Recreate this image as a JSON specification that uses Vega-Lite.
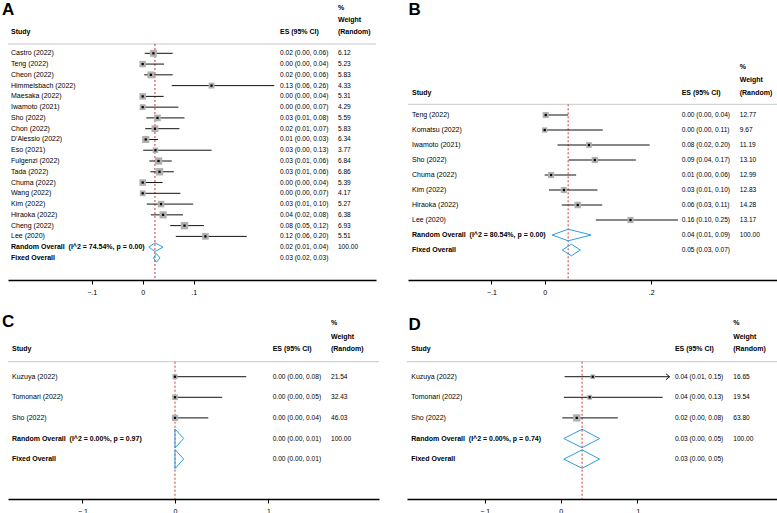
{
  "$schema": "https://vega.github.io/schema/vega-lite/v6.json",
  "padding": {"left": 1, "top": 0, "right": 0, "bottom": 0},
  "spacing": 10,
  "resolve": {"scale": {"size": "independent"}},
  "vconcat": [
    {
      "spacing": 30,
      "resolve": {"scale": {"size": "independent"}},
      "hconcat": [
        {
          "width": 368, "height": 280,
          "data": {"values": [
            {"row": 1, "type": "study", "study": "Castro (2022)", "es": 0.021, "lo": 0.004, "hi": 0.059, "ci": "0.02 (0.00, 0.06)", "wt": 6.12},
            {"row": 2, "type": "study", "study": "Teng (2022)", "es": 0.0, "lo": 0.0, "hi": 0.042, "ci": "0.00 (0.00, 0.04)", "wt": 5.23},
            {"row": 3, "type": "study", "study": "Cheon (2022)", "es": 0.016, "lo": 0.003, "hi": 0.059, "ci": "0.02 (0.00, 0.06)", "wt": 5.83},
            {"row": 4, "type": "study", "study": "Himmelsbach (2022)", "es": 0.135, "lo": 0.057, "hi": 0.258, "ci": "0.13 (0.06, 0.26)", "wt": 4.33},
            {"row": 5, "type": "study", "study": "Maesaka (2022)", "es": 0.0, "lo": 0.0, "hi": 0.041, "ci": "0.00 (0.00, 0.04)", "wt": 5.31},
            {"row": 6, "type": "study", "study": "Iwamoto (2021)", "es": 0.0, "lo": 0.0, "hi": 0.07, "ci": "0.00 (0.00, 0.07)", "wt": 4.29},
            {"row": 7, "type": "study", "study": "Sho (2022)", "es": 0.029, "lo": 0.007, "hi": 0.082, "ci": "0.03 (0.01, 0.08)", "wt": 5.59},
            {"row": 8, "type": "study", "study": "Chon (2022)", "es": 0.024, "lo": 0.005, "hi": 0.072, "ci": "0.02 (0.01, 0.07)", "wt": 5.83},
            {"row": 9, "type": "study", "study": "D'Alessio (2022)", "es": 0.006, "lo": 0.0, "hi": 0.03, "ci": "0.01 (0.00, 0.03)", "wt": 6.34},
            {"row": 10, "type": "study", "study": "Eso (2021)", "es": 0.025, "lo": 0.001, "hi": 0.135, "ci": "0.03 (0.00, 0.13)", "wt": 3.77},
            {"row": 11, "type": "study", "study": "Fulgenzi (2022)", "es": 0.031, "lo": 0.013, "hi": 0.057, "ci": "0.03 (0.01, 0.06)", "wt": 6.84},
            {"row": 12, "type": "study", "study": "Tada (2022)", "es": 0.033, "lo": 0.015, "hi": 0.061, "ci": "0.03 (0.01, 0.06)", "wt": 6.86},
            {"row": 13, "type": "study", "study": "Chuma (2022)", "es": 0.0, "lo": 0.0, "hi": 0.039, "ci": "0.00 (0.00, 0.04)", "wt": 5.39},
            {"row": 14, "type": "study", "study": "Wang (2022)", "es": 0.0, "lo": 0.0, "hi": 0.074, "ci": "0.00 (0.00, 0.07)", "wt": 4.17},
            {"row": 15, "type": "study", "study": "Kim (2022)", "es": 0.036, "lo": 0.008, "hi": 0.099, "ci": "0.03 (0.01, 0.10)", "wt": 5.27},
            {"row": 16, "type": "study", "study": "Hiraoka (2022)", "es": 0.04, "lo": 0.016, "hi": 0.079, "ci": "0.04 (0.02, 0.08)", "wt": 6.38},
            {"row": 17, "type": "study", "study": "Cheng (2022)", "es": 0.082, "lo": 0.054, "hi": 0.12, "ci": "0.08 (0.05, 0.12)", "wt": 6.93},
            {"row": 18, "type": "study", "study": "Lee (2020)", "es": 0.123, "lo": 0.065, "hi": 0.204, "ci": "0.12 (0.06, 0.20)", "wt": 5.51},
            {"row": 19, "type": "random", "study": "Random Overall\u00a0 (I^2 = 74.54%, p = 0.00)", "es": 0.024, "lo": 0.012, "hi": 0.04, "ci": "0.02 (0.01, 0.04)", "wt": 100},
            {"row": 20, "type": "fixed", "study": "Fixed Overall", "es": 0.027, "lo": 0.021, "hi": 0.034, "ci": "0.03 (0.02, 0.03)", "wt": null}
          ]},
          "layer": [
            {"data": {"values": [{"k": 1}]}, "mark": {"type": "rule", "color": "#c8c8c8", "strokeWidth": 1},
             "encoding": {"x": {"datum": -0.2641, "type": "quantitative", "scale": {"domain": [-0.2641, 0.4575], "nice": false, "zero": false}, "axis": {"values": [-0.1, 0, 0.1], "labelExpr": "datum.value == 0 ? '0' : replace(format(datum.value, '.1f'), '0.', '.')", "title": null}},
                          "x2": {"datum": 0.4575}, "y": {"datum": 0.136, "type": "quantitative", "axis": null, "scale": {"domain": [-3.949, 22.049], "reverse": true, "nice": false, "zero": false}}}},
            {"transform": [{"filter": "datum.type == 'random'"}], "mark": {"type": "rule", "color": "#c43c3c", "strokeWidth": 1, "strokeDash": [2, 2]},
             "encoding": {"x": {"field": "es", "type": "quantitative", "title": null, "scale": {"domain": [-0.2641, 0.4575], "nice": false, "zero": false}}, "y": {"datum": 0.136, "type": "quantitative", "axis": null}, "y2": {"datum": 22.049}}},
            {"transform": [{"filter": "datum.type != 'study'"}], "mark": {"type": "rule", "color": "#2a9fe0", "strokeWidth": 1, "y2Offset": -4.3},
             "encoding": {"x": {"field": "lo", "type": "quantitative", "title": null}, "x2": {"field": "es"}, "y": {"field": "row", "type": "quantitative", "axis": null}, "y2": {"field": "row"}}},
            {"transform": [{"filter": "datum.type != 'study'"}], "mark": {"type": "rule", "color": "#2a9fe0", "strokeWidth": 1, "y2Offset": 4.3},
             "encoding": {"x": {"field": "lo", "type": "quantitative", "title": null}, "x2": {"field": "es"}, "y": {"field": "row", "type": "quantitative", "axis": null}, "y2": {"field": "row"}}},
            {"transform": [{"filter": "datum.type != 'study'"}], "mark": {"type": "rule", "color": "#2a9fe0", "strokeWidth": 1, "yOffset": -4.3},
             "encoding": {"x": {"field": "es", "type": "quantitative", "title": null}, "x2": {"field": "hi"}, "y": {"field": "row", "type": "quantitative", "axis": null}, "y2": {"field": "row"}}},
            {"transform": [{"filter": "datum.type != 'study'"}], "mark": {"type": "rule", "color": "#2a9fe0", "strokeWidth": 1, "yOffset": 4.3},
             "encoding": {"x": {"field": "es", "type": "quantitative", "title": null}, "x2": {"field": "hi"}, "y": {"field": "row", "type": "quantitative", "axis": null}, "y2": {"field": "row"}}},
            {"transform": [{"filter": "datum.type == 'study'"}], "mark": {"type": "rule", "color": "#111", "strokeWidth": 1},
             "encoding": {"x": {"field": "lo", "type": "quantitative", "title": null}, "x2": {"field": "hi"}, "y": {"field": "row", "type": "quantitative", "axis": null, "scale": {"domain": [-3.949, 22.049], "reverse": true, "nice": false, "zero": false}}}},
            {"transform": [{"filter": "datum.type == 'study'"}], "mark": {"type": "square", "filled": true, "color": "#b0b0b0", "opacity": 1},
             "encoding": {"x": {"field": "es", "type": "quantitative", "title": null}, "y": {"field": "row", "type": "quantitative", "axis": null}, "size": {"field": "wt", "type": "quantitative", "legend": null, "scale": {"domain": [0, 7], "range": [0, 56]}}}},
            {"transform": [{"filter": "datum.type == 'study'"}], "mark": {"type": "square", "filled": true, "color": "#000", "opacity": 1, "size": 5},
             "encoding": {"x": {"field": "es", "type": "quantitative", "title": null}, "y": {"field": "row", "type": "quantitative", "axis": null}}},
            {"transform": [{"filter": "datum.type == 'study'"}], "mark": {"type": "text"},
             "encoding": {"x": {"datum": -0.2582, "type": "quantitative"}, "y": {"field": "row", "type": "quantitative", "axis": null}, "text": {"field": "study"}}},
            {"transform": [{"filter": "datum.type != 'study'"}], "mark": {"type": "text", "fontWeight": "bold"},
             "encoding": {"x": {"datum": -0.2582, "type": "quantitative"}, "y": {"field": "row", "type": "quantitative", "axis": null}, "text": {"field": "study"}}},
            {"mark": {"type": "text", "fontSize": 6.6},
             "encoding": {"x": {"datum": 0.2692, "type": "quantitative"}, "y": {"field": "row", "type": "quantitative", "axis": null}, "text": {"field": "ci"}}},
            {"transform": [{"filter": "isValid(datum.wt)"}], "mark": {"type": "text", "fontSize": 6.6},
             "encoding": {"x": {"datum": 0.3829, "type": "quantitative"}, "y": {"field": "row", "type": "quantitative", "axis": null}, "text": {"field": "wt", "type": "quantitative", "format": ".2f"}}},
            {"data": {"values": [{"k": 1}]}, "mark": {"type": "text", "text": "A", "fontSize": 17, "fontWeight": "bold", "baseline": "alphabetic"}, "encoding": {"x": {"datum": -0.2759, "type": "quantitative"}, "y": {"datum": -2.55, "type": "quantitative", "axis": null}}},
            {"data": {"values": [{"k": 1}]}, "mark": {"type": "text", "text": "Study", "fontWeight": "bold"}, "encoding": {"x": {"datum": -0.2582, "type": "quantitative"}, "y": {"datum": -0.978, "type": "quantitative", "axis": null}}},
            {"data": {"values": [{"k": 1}]}, "mark": {"type": "text", "text": "ES (95% CI)", "fontWeight": "bold"}, "encoding": {"x": {"datum": 0.2692, "type": "quantitative"}, "y": {"datum": -0.978, "type": "quantitative", "axis": null}}},
            {"data": {"values": [{"k": 1}]}, "mark": {"type": "text", "text": "(Random)", "fontWeight": "bold"}, "encoding": {"x": {"datum": 0.3829, "type": "quantitative"}, "y": {"datum": -0.978, "type": "quantitative", "axis": null}}},
            {"data": {"values": [{"k": 1}]}, "mark": {"type": "text", "text": "Weight", "fontWeight": "bold"}, "encoding": {"x": {"datum": 0.3829, "type": "quantitative"}, "y": {"datum": -2.092, "type": "quantitative", "axis": null}}},
            {"data": {"values": [{"k": 1}]}, "mark": {"type": "text", "text": "%", "fontWeight": "bold"}, "encoding": {"x": {"datum": 0.3829, "type": "quantitative"}, "y": {"datum": -3.25, "type": "quantitative", "axis": null}}}
          ]
        },
        {
          "width": 372, "height": 280,
          "data": {"values": [
            {"row": 1, "type": "study", "study": "Teng (2022)", "es": 0.002, "lo": 0.0, "hi": 0.044, "ci": "0.00 (0.00, 0.04)", "wt": 12.77},
            {"row": 2, "type": "study", "study": "Komatsu (2022)", "es": 0.0, "lo": 0.0, "hi": 0.109, "ci": "0.00 (0.00, 0.11)", "wt": 9.67},
            {"row": 3, "type": "study", "study": "Iwamoto (2021)", "es": 0.083, "lo": 0.024, "hi": 0.197, "ci": "0.08 (0.02, 0.20)", "wt": 11.19},
            {"row": 4, "type": "study", "study": "Sho (2022)", "es": 0.094, "lo": 0.045, "hi": 0.171, "ci": "0.09 (0.04, 0.17)", "wt": 13.10},
            {"row": 5, "type": "study", "study": "Chuma (2022)", "es": 0.012, "lo": 0.0, "hi": 0.059, "ci": "0.01 (0.00, 0.06)", "wt": 12.99},
            {"row": 6, "type": "study", "study": "Kim (2022)", "es": 0.036, "lo": 0.008, "hi": 0.099, "ci": "0.03 (0.01, 0.10)", "wt": 12.83},
            {"row": 7, "type": "study", "study": "Hiraoka (2022)", "es": 0.062, "lo": 0.032, "hi": 0.108, "ci": "0.06 (0.03, 0.11)", "wt": 14.28},
            {"row": 8, "type": "study", "study": "Lee (2020)", "es": 0.161, "lo": 0.096, "hi": 0.25, "ci": "0.16 (0.10, 0.25)", "wt": 13.17},
            {"row": 9, "type": "random", "study": "Random Overall\u00a0 (I^2 = 80.54%, p = 0.00)", "es": 0.044, "lo": 0.014, "hi": 0.087, "ci": "0.04 (0.01, 0.09)", "wt": 100},
            {"row": 10, "type": "fixed", "study": "Fixed Overall", "es": 0.05, "lo": 0.033, "hi": 0.067, "ci": "0.05 (0.03, 0.07)", "wt": null}
          ]},
          "layer": [
            {"data": {"values": [{"k": 1}]}, "mark": {"type": "rule", "color": "#c8c8c8", "strokeWidth": 1},
             "encoding": {"x": {"datum": -0.2565, "type": "quantitative", "scale": {"domain": [-0.2565, 0.4415], "nice": false, "zero": false}, "axis": {"values": [-0.1, 0, 0.2], "labelExpr": "datum.value == 0 ? '0' : replace(format(datum.value, '.1f'), '0.', '.')", "title": null}},
                          "x2": {"datum": 0.4415}, "y": {"datum": 0.287, "type": "quantitative", "axis": null, "scale": {"domain": [-6.667, 12.0], "reverse": true, "nice": false, "zero": false}}}},
            {"transform": [{"filter": "datum.type == 'random'"}], "mark": {"type": "rule", "color": "#c43c3c", "strokeWidth": 1, "strokeDash": [2, 2]},
             "encoding": {"x": {"field": "es", "type": "quantitative", "title": null, "scale": {"domain": [-0.2565, 0.4415], "nice": false, "zero": false}}, "y": {"datum": 0.287, "type": "quantitative", "axis": null}, "y2": {"datum": 12.0}}},
            {"transform": [{"filter": "datum.type != 'study'"}], "mark": {"type": "rule", "color": "#2a9fe0", "strokeWidth": 1, "y2Offset": -5.8},
             "encoding": {"x": {"field": "lo", "type": "quantitative", "title": null}, "x2": {"field": "es"}, "y": {"field": "row", "type": "quantitative", "axis": null}, "y2": {"field": "row"}}},
            {"transform": [{"filter": "datum.type != 'study'"}], "mark": {"type": "rule", "color": "#2a9fe0", "strokeWidth": 1, "y2Offset": 5.8},
             "encoding": {"x": {"field": "lo", "type": "quantitative", "title": null}, "x2": {"field": "es"}, "y": {"field": "row", "type": "quantitative", "axis": null}, "y2": {"field": "row"}}},
            {"transform": [{"filter": "datum.type != 'study'"}], "mark": {"type": "rule", "color": "#2a9fe0", "strokeWidth": 1, "yOffset": -5.8},
             "encoding": {"x": {"field": "es", "type": "quantitative", "title": null}, "x2": {"field": "hi"}, "y": {"field": "row", "type": "quantitative", "axis": null}, "y2": {"field": "row"}}},
            {"transform": [{"filter": "datum.type != 'study'"}], "mark": {"type": "rule", "color": "#2a9fe0", "strokeWidth": 1, "yOffset": 5.8},
             "encoding": {"x": {"field": "es", "type": "quantitative", "title": null}, "x2": {"field": "hi"}, "y": {"field": "row", "type": "quantitative", "axis": null}, "y2": {"field": "row"}}},
            {"transform": [{"filter": "datum.type == 'study'"}], "mark": {"type": "rule", "color": "#111", "strokeWidth": 1},
             "encoding": {"x": {"field": "lo", "type": "quantitative", "title": null}, "x2": {"field": "hi"}, "y": {"field": "row", "type": "quantitative", "axis": null, "scale": {"domain": [-6.667, 12.0], "reverse": true, "nice": false, "zero": false}}}},
            {"transform": [{"filter": "datum.type == 'study'"}], "mark": {"type": "square", "filled": true, "color": "#b0b0b0", "opacity": 1},
             "encoding": {"x": {"field": "es", "type": "quantitative", "title": null}, "y": {"field": "row", "type": "quantitative", "axis": null}, "size": {"field": "wt", "type": "quantitative", "legend": null, "scale": {"domain": [0, 14.28], "range": [0, 42]}}}},
            {"transform": [{"filter": "datum.type == 'study'"}], "mark": {"type": "square", "filled": true, "color": "#000", "opacity": 1, "size": 5},
             "encoding": {"x": {"field": "es", "type": "quantitative", "title": null}, "y": {"field": "row", "type": "quantitative", "axis": null}}},
            {"transform": [{"filter": "datum.type == 'study'"}], "mark": {"type": "text"},
             "encoding": {"x": {"datum": -0.249, "type": "quantitative"}, "y": {"field": "row", "type": "quantitative", "axis": null}, "text": {"field": "study"}}},
            {"transform": [{"filter": "datum.type != 'study'"}], "mark": {"type": "text", "fontWeight": "bold"},
             "encoding": {"x": {"datum": -0.249, "type": "quantitative"}, "y": {"field": "row", "type": "quantitative", "axis": null}, "text": {"field": "study"}}},
            {"mark": {"type": "text", "fontSize": 6.6},
             "encoding": {"x": {"datum": 0.257, "type": "quantitative"}, "y": {"field": "row", "type": "quantitative", "axis": null}, "text": {"field": "ci"}}},
            {"transform": [{"filter": "isValid(datum.wt)"}], "mark": {"type": "text", "fontSize": 6.6},
             "encoding": {"x": {"datum": 0.3659, "type": "quantitative"}, "y": {"field": "row", "type": "quantitative", "axis": null}, "text": {"field": "wt", "type": "quantitative", "format": ".2f"}}},
            {"data": {"values": [{"k": 1}]}, "mark": {"type": "text", "text": "B", "fontSize": 17, "fontWeight": "bold", "baseline": "alphabetic"}, "encoding": {"x": {"datum": -0.2555, "type": "quantitative"}, "y": {"datum": -5.667, "type": "quantitative", "axis": null}}},
            {"data": {"values": [{"k": 1}]}, "mark": {"type": "text", "text": "Study", "fontWeight": "bold"}, "encoding": {"x": {"datum": -0.249, "type": "quantitative"}, "y": {"datum": -0.447, "type": "quantitative", "axis": null}}},
            {"data": {"values": [{"k": 1}]}, "mark": {"type": "text", "text": "ES (95% CI)", "fontWeight": "bold"}, "encoding": {"x": {"datum": 0.257, "type": "quantitative"}, "y": {"datum": -0.447, "type": "quantitative", "axis": null}}},
            {"data": {"values": [{"k": 1}]}, "mark": {"type": "text", "text": "(Random)", "fontWeight": "bold"}, "encoding": {"x": {"datum": 0.3659, "type": "quantitative"}, "y": {"datum": -0.447, "type": "quantitative", "axis": null}}},
            {"data": {"values": [{"k": 1}]}, "mark": {"type": "text", "text": "Weight", "fontWeight": "bold"}, "encoding": {"x": {"datum": 0.3659, "type": "quantitative"}, "y": {"datum": -1.333, "type": "quantitative", "axis": null}}},
            {"data": {"values": [{"k": 1}]}, "mark": {"type": "text", "text": "%", "fontWeight": "bold"}, "encoding": {"x": {"datum": 0.3659, "type": "quantitative"}, "y": {"datum": -2.22, "type": "quantitative", "axis": null}}}
          ]
        }
      ]
    },
    {
      "spacing": 26,
      "resolve": {"scale": {"size": "independent"}},
      "hconcat": [
        {
          "width": 371, "height": 194,
          "data": {"values": [
            {"row": 1, "type": "study", "study": "Kuzuya (2022)", "es": 0.0, "lo": 0.0, "hi": 0.077, "ci": "0.00 (0.00, 0.08)", "wt": 21.54},
            {"row": 2, "type": "study", "study": "Tomonari (2022)", "es": 0.0, "lo": 0.0, "hi": 0.051, "ci": "0.00 (0.00, 0.05)", "wt": 32.43},
            {"row": 3, "type": "study", "study": "Sho (2022)", "es": 0.0, "lo": 0.0, "hi": 0.036, "ci": "0.00 (0.00, 0.04)", "wt": 46.03},
            {"row": 4, "type": "random", "study": "Random Overall\u00a0 (I^2 = 0.00%, p = 0.97)", "es": 0.0, "lo": 0.0, "hi": 0.0094, "ci": "0.00 (0.00, 0.01)", "wt": 100},
            {"row": 5, "type": "fixed", "study": "Fixed Overall", "es": 0.0, "lo": 0.0, "hi": 0.0094, "ci": "0.00 (0.00, 0.01)", "wt": null}
          ]},
          "layer": [
            {"data": {"values": [{"k": 1}]}, "mark": {"type": "rule", "color": "#c8c8c8", "strokeWidth": 1},
             "encoding": {"x": {"datum": -0.1805, "type": "quantitative", "scale": {"domain": [-0.1805, 0.2205], "nice": false, "zero": false}, "axis": {"values": [-0.1, 0, 0.1], "labelExpr": "datum.value == 0 ? '0' : replace(format(datum.value, '.1f'), '0.', '.')", "title": null}},
                          "x2": {"datum": 0.2205}, "y": {"datum": 0.272, "type": "quantitative", "axis": null, "scale": {"domain": [-2.481, 6.937], "reverse": true, "nice": false, "zero": false}}}},
            {"transform": [{"filter": "datum.type == 'random'"}], "mark": {"type": "rule", "color": "#c43c3c", "strokeWidth": 1, "strokeDash": [2, 2]},
             "encoding": {"x": {"field": "es", "type": "quantitative", "title": null, "scale": {"domain": [-0.1805, 0.2205], "nice": false, "zero": false}}, "y": {"datum": 0.272, "type": "quantitative", "axis": null}, "y2": {"datum": 6.937}}},
            {"transform": [{"filter": "datum.type != 'study'"}], "mark": {"type": "rule", "color": "#2a9fe0", "strokeWidth": 1, "y2Offset": -9.5},
             "encoding": {"x": {"field": "lo", "type": "quantitative", "title": null}, "x2": {"field": "es"}, "y": {"field": "row", "type": "quantitative", "axis": null}, "y2": {"field": "row"}}},
            {"transform": [{"filter": "datum.type != 'study'"}], "mark": {"type": "rule", "color": "#2a9fe0", "strokeWidth": 1, "y2Offset": 9.5},
             "encoding": {"x": {"field": "lo", "type": "quantitative", "title": null}, "x2": {"field": "es"}, "y": {"field": "row", "type": "quantitative", "axis": null}, "y2": {"field": "row"}}},
            {"transform": [{"filter": "datum.type != 'study'"}], "mark": {"type": "rule", "color": "#2a9fe0", "strokeWidth": 1, "yOffset": -9.5},
             "encoding": {"x": {"field": "es", "type": "quantitative", "title": null}, "x2": {"field": "hi"}, "y": {"field": "row", "type": "quantitative", "axis": null}, "y2": {"field": "row"}}},
            {"transform": [{"filter": "datum.type != 'study'"}], "mark": {"type": "rule", "color": "#2a9fe0", "strokeWidth": 1, "yOffset": 9.5},
             "encoding": {"x": {"field": "es", "type": "quantitative", "title": null}, "x2": {"field": "hi"}, "y": {"field": "row", "type": "quantitative", "axis": null}, "y2": {"field": "row"}}},
            {"transform": [{"filter": "datum.type == 'study'"}], "mark": {"type": "rule", "color": "#111", "strokeWidth": 1},
             "encoding": {"x": {"field": "lo", "type": "quantitative", "title": null}, "x2": {"field": "hi"}, "y": {"field": "row", "type": "quantitative", "axis": null, "scale": {"domain": [-2.481, 6.937], "reverse": true, "nice": false, "zero": false}}}},
            {"transform": [{"filter": "datum.type == 'study'"}], "mark": {"type": "square", "filled": true, "color": "#b0b0b0", "opacity": 1},
             "encoding": {"x": {"field": "es", "type": "quantitative", "title": null}, "y": {"field": "row", "type": "quantitative", "axis": null}, "size": {"field": "wt", "type": "quantitative", "legend": null, "scale": {"domain": [0, 46], "range": [14, 40]}}}},
            {"transform": [{"filter": "datum.type == 'study'"}], "mark": {"type": "square", "filled": true, "color": "#000", "opacity": 1, "size": 5},
             "encoding": {"x": {"field": "es", "type": "quantitative", "title": null}, "y": {"field": "row", "type": "quantitative", "axis": null}}},
            {"transform": [{"filter": "datum.type == 'study'"}], "mark": {"type": "text"},
             "encoding": {"x": {"datum": -0.1762, "type": "quantitative"}, "y": {"field": "row", "type": "quantitative", "axis": null}, "text": {"field": "study"}}},
            {"transform": [{"filter": "datum.type != 'study'"}], "mark": {"type": "text", "fontWeight": "bold"},
             "encoding": {"x": {"datum": -0.1762, "type": "quantitative"}, "y": {"field": "row", "type": "quantitative", "axis": null}, "text": {"field": "study"}}},
            {"mark": {"type": "text", "fontSize": 6.6},
             "encoding": {"x": {"datum": 0.1056, "type": "quantitative"}, "y": {"field": "row", "type": "quantitative", "axis": null}, "text": {"field": "ci"}}},
            {"transform": [{"filter": "isValid(datum.wt)"}], "mark": {"type": "text", "fontSize": 6.6},
             "encoding": {"x": {"datum": 0.1686, "type": "quantitative"}, "y": {"field": "row", "type": "quantitative", "axis": null}, "text": {"field": "wt", "type": "quantitative", "format": ".2f"}}},
            {"data": {"values": [{"k": 1}]}, "mark": {"type": "text", "text": "C", "fontSize": 17, "fontWeight": "bold", "baseline": "alphabetic"}, "encoding": {"x": {"datum": -0.187, "type": "quantitative"}, "y": {"datum": -1.413, "type": "quantitative", "axis": null}}},
            {"data": {"values": [{"k": 1}]}, "mark": {"type": "text", "text": "Study", "fontWeight": "bold"}, "encoding": {"x": {"datum": -0.1762, "type": "quantitative"}, "y": {"datum": -0.33, "type": "quantitative", "axis": null}}},
            {"data": {"values": [{"k": 1}]}, "mark": {"type": "text", "text": "ES (95% CI)", "fontWeight": "bold"}, "encoding": {"x": {"datum": 0.1056, "type": "quantitative"}, "y": {"datum": -0.33, "type": "quantitative", "axis": null}}},
            {"data": {"values": [{"k": 1}]}, "mark": {"type": "text", "text": "(Random)", "fontWeight": "bold"}, "encoding": {"x": {"datum": 0.1686, "type": "quantitative"}, "y": {"datum": -0.33, "type": "quantitative", "axis": null}}},
            {"data": {"values": [{"k": 1}]}, "mark": {"type": "text", "text": "Weight", "fontWeight": "bold"}, "encoding": {"x": {"datum": 0.1686, "type": "quantitative"}, "y": {"datum": -0.942, "type": "quantitative", "axis": null}}},
            {"data": {"values": [{"k": 1}]}, "mark": {"type": "text", "text": "%", "fontWeight": "bold"}, "encoding": {"x": {"datum": 0.1686, "type": "quantitative"}, "y": {"datum": -1.607, "type": "quantitative", "axis": null}}}
          ]
        },
        {
          "width": 373, "height": 194,
          "data": {"values": [
            {"row": 1, "type": "study", "study": "Kuzuya (2022)", "es": 0.042, "lo": 0.005, "hi": 0.143, "ci": "0.04 (0.01, 0.15)", "wt": 16.65, "arrow": true},
            {"row": 2, "type": "study", "study": "Tomonari (2022)", "es": 0.038, "lo": 0.004, "hi": 0.134, "ci": "0.04 (0.00, 0.13)", "wt": 19.54, "arrow": false},
            {"row": 3, "type": "study", "study": "Sho (2022)", "es": 0.021, "lo": 0.002, "hi": 0.075, "ci": "0.02 (0.00, 0.08)", "wt": 63.80, "arrow": false},
            {"row": 4, "type": "random", "study": "Random Overall\u00a0 (I^2 = 0.00%, p = 0.74)", "es": 0.028, "lo": 0.004, "hi": 0.051, "ci": "0.03 (0.00, 0.05)", "wt": 100, "arrow": false},
            {"row": 5, "type": "fixed", "study": "Fixed Overall", "es": 0.028, "lo": 0.004, "hi": 0.051, "ci": "0.03 (0.00, 0.05)", "wt": null, "arrow": false}
          ]},
          "layer": [
            {"data": {"values": [{"k": 1}]}, "mark": {"type": "rule", "color": "#c8c8c8", "strokeWidth": 1},
             "encoding": {"x": {"datum": -0.2022, "type": "quantitative", "scale": {"domain": [-0.2022, 0.2882], "nice": false, "zero": false}, "axis": {"values": [-0.1, 0, 0.1], "labelExpr": "datum.value == 0 ? '0' : replace(format(datum.value, '.1f'), '0.', '.')", "title": null}},
                          "x2": {"datum": 0.2882}, "y": {"datum": 0.272, "type": "quantitative", "axis": null, "scale": {"domain": [-2.481, 6.937], "reverse": true, "nice": false, "zero": false}}}},
            {"transform": [{"filter": "datum.type == 'random'"}], "mark": {"type": "rule", "color": "#c43c3c", "strokeWidth": 1, "strokeDash": [2, 2]},
             "encoding": {"x": {"field": "es", "type": "quantitative", "title": null, "scale": {"domain": [-0.2022, 0.2882], "nice": false, "zero": false}}, "y": {"datum": 0.272, "type": "quantitative", "axis": null}, "y2": {"datum": 6.937}}},
            {"transform": [{"filter": "datum.type != 'study'"}], "mark": {"type": "rule", "color": "#2a9fe0", "strokeWidth": 1, "y2Offset": -9.2},
             "encoding": {"x": {"field": "lo", "type": "quantitative", "title": null}, "x2": {"field": "es"}, "y": {"field": "row", "type": "quantitative", "axis": null}, "y2": {"field": "row"}}},
            {"transform": [{"filter": "datum.type != 'study'"}], "mark": {"type": "rule", "color": "#2a9fe0", "strokeWidth": 1, "y2Offset": 9.2},
             "encoding": {"x": {"field": "lo", "type": "quantitative", "title": null}, "x2": {"field": "es"}, "y": {"field": "row", "type": "quantitative", "axis": null}, "y2": {"field": "row"}}},
            {"transform": [{"filter": "datum.type != 'study'"}], "mark": {"type": "rule", "color": "#2a9fe0", "strokeWidth": 1, "yOffset": -9.2},
             "encoding": {"x": {"field": "es", "type": "quantitative", "title": null}, "x2": {"field": "hi"}, "y": {"field": "row", "type": "quantitative", "axis": null}, "y2": {"field": "row"}}},
            {"transform": [{"filter": "datum.type != 'study'"}], "mark": {"type": "rule", "color": "#2a9fe0", "strokeWidth": 1, "yOffset": 9.2},
             "encoding": {"x": {"field": "es", "type": "quantitative", "title": null}, "x2": {"field": "hi"}, "y": {"field": "row", "type": "quantitative", "axis": null}, "y2": {"field": "row"}}},
            {"transform": [{"filter": "datum.type == 'study'"}], "mark": {"type": "rule", "color": "#111", "strokeWidth": 1},
             "encoding": {"x": {"field": "lo", "type": "quantitative", "title": null}, "x2": {"field": "hi"}, "y": {"field": "row", "type": "quantitative", "axis": null, "scale": {"domain": [-2.481, 6.937], "reverse": true, "nice": false, "zero": false}}}},
            {"transform": [{"filter": "datum.arrow"}], "mark": {"type": "point", "shape": "M-1.2,-1L0,0L-1.2,1", "filled": false, "color": "#111", "strokeWidth": 1, "size": 36, "opacity": 1},
             "encoding": {"x": {"field": "hi", "type": "quantitative", "title": null}, "y": {"field": "row", "type": "quantitative", "axis": null}}},
            {"transform": [{"filter": "datum.type == 'study'"}], "mark": {"type": "square", "filled": true, "color": "#b0b0b0", "opacity": 1},
             "encoding": {"x": {"field": "es", "type": "quantitative", "title": null}, "y": {"field": "row", "type": "quantitative", "axis": null}, "size": {"field": "wt", "type": "quantitative", "legend": null, "scale": {"domain": [0, 64], "range": [10, 53]}}}},
            {"transform": [{"filter": "datum.type == 'study'"}], "mark": {"type": "square", "filled": true, "color": "#000", "opacity": 1, "size": 5},
             "encoding": {"x": {"field": "es", "type": "quantitative", "title": null}, "y": {"field": "row", "type": "quantitative", "axis": null}}},
            {"transform": [{"filter": "datum.type == 'study'"}], "mark": {"type": "text"},
             "encoding": {"x": {"datum": -0.1966, "type": "quantitative"}, "y": {"field": "row", "type": "quantitative", "axis": null}, "text": {"field": "study"}}},
            {"transform": [{"filter": "datum.type != 'study'"}], "mark": {"type": "text", "fontWeight": "bold"},
             "encoding": {"x": {"datum": -0.1966, "type": "quantitative"}, "y": {"field": "row", "type": "quantitative", "axis": null}, "text": {"field": "study"}}},
            {"mark": {"type": "text", "fontSize": 6.6},
             "encoding": {"x": {"datum": 0.15, "type": "quantitative"}, "y": {"field": "row", "type": "quantitative", "axis": null}, "text": {"field": "ci"}}},
            {"transform": [{"filter": "isValid(datum.wt)"}], "mark": {"type": "text", "fontSize": 6.6},
             "encoding": {"x": {"datum": 0.2267, "type": "quantitative"}, "y": {"field": "row", "type": "quantitative", "axis": null}, "text": {"field": "wt", "type": "quantitative", "format": ".2f"}}},
            {"data": {"values": [{"k": 1}]}, "mark": {"type": "text", "text": "D", "fontSize": 17, "fontWeight": "bold", "baseline": "alphabetic"}, "encoding": {"x": {"datum": -0.2003, "type": "quantitative"}, "y": {"datum": -1.267, "type": "quantitative", "axis": null}}},
            {"data": {"values": [{"k": 1}]}, "mark": {"type": "text", "text": "Study", "fontWeight": "bold"}, "encoding": {"x": {"datum": -0.1966, "type": "quantitative"}, "y": {"datum": -0.33, "type": "quantitative", "axis": null}}},
            {"data": {"values": [{"k": 1}]}, "mark": {"type": "text", "text": "ES (95% CI)", "fontWeight": "bold"}, "encoding": {"x": {"datum": 0.15, "type": "quantitative"}, "y": {"datum": -0.33, "type": "quantitative", "axis": null}}},
            {"data": {"values": [{"k": 1}]}, "mark": {"type": "text", "text": "(Random)", "fontWeight": "bold"}, "encoding": {"x": {"datum": 0.2267, "type": "quantitative"}, "y": {"datum": -0.33, "type": "quantitative", "axis": null}}},
            {"data": {"values": [{"k": 1}]}, "mark": {"type": "text", "text": "Weight", "fontWeight": "bold"}, "encoding": {"x": {"datum": 0.2267, "type": "quantitative"}, "y": {"datum": -0.942, "type": "quantitative", "axis": null}}},
            {"data": {"values": [{"k": 1}]}, "mark": {"type": "text", "text": "%", "fontWeight": "bold"}, "encoding": {"x": {"datum": 0.2267, "type": "quantitative"}, "y": {"datum": -1.607, "type": "quantitative", "axis": null}}}
          ]
        }
      ]
    }
  ],
  "config": {
    "view": {"stroke": null},
    "font": "Liberation Sans",
    "text": {"font": "Liberation Sans", "fontSize": 7, "align": "left", "baseline": "middle", "color": "#000"},
    "axisY": {"disable": true},
    "axisX": {"domainColor": "#000", "domainWidth": 1.5, "tickColor": "#000", "tickSize": 4, "tickWidth": 1, "grid": false, "labelFont": "Liberation Sans", "labelFontSize": 7, "labelColor": "#000", "labelPadding": 4, "labelFlush": false, "labelOverlap": false, "titleFontSize": 0}
  }
}
